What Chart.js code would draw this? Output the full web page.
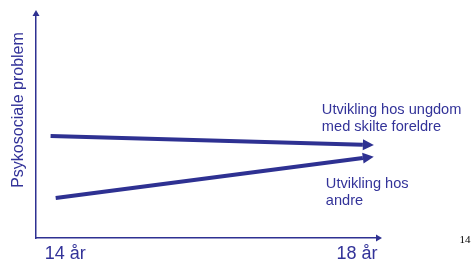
<!DOCTYPE html>
<html>
<head>
<meta charset="utf-8">
<script src="https://cdn.jsdelivr.net/npm/chart.js@4"></script>
<style>
  body { margin: 0; background: #fff; }
</style>
</head>
<body>
<canvas id="chart" width="475" height="262"></canvas>
<script>
// data (x = age in years, y = arbitrary problem level 0-10)
const tickYears = [14, 18];
const skilteX = [13.8, 18.08];
const skilteY = [4.6, 4.2];
const andreX = [13.87, 18.08];
const andreY = [1.8, 3.6];
const skilteLabel = ['Utvikling hos ungdom', 'med skilte foreldre'];
const andreLabel = ['Utvikling hos', 'andre'];
const yTitle = 'Psykosociale problem';

const lineColor = '#2e3192';
const textColor = '#333399';
const font = '"Liberation Sans", Arial, sans-serif';

function toPoints(xs, ys) {
    return xs.map((x, i) => ({ x: x, y: ys[i] }));
}

function arrowHead(ctx, x0, y0, x1, y1, len, half) {
    let a = Math.atan2(y1 - y0, x1 - x0);
    let tx = x1 + Math.cos(a) * len;
    let ty = y1 + Math.sin(a) * len;
    ctx.beginPath();
    ctx.moveTo(tx, ty);
    ctx.lineTo(x1 - Math.sin(a) * half, y1 + Math.cos(a) * half);
    ctx.lineTo(x1 + Math.sin(a) * half, y1 - Math.cos(a) * half);
    ctx.closePath();
    ctx.fill();
}

const extras = {
    id: 'extras',
    afterDraw(chart) {
        const ctx = chart.ctx;
        const area = chart.chartArea;
        ctx.save();
        ctx.fillStyle = lineColor;

        // axis arrowheads
        arrowHead(ctx, area.left, area.bottom, area.left, area.top, 6, 3.5);
        arrowHead(ctx, area.left, area.bottom, area.right, area.bottom, 6, 3.5);

        // line arrowheads + labels
        chart.data.datasets.forEach((ds, i) => {
            let pts = chart.getDatasetMeta(i).data;
            let p0 = pts[pts.length - 2], p1 = pts[pts.length - 1];
            ctx.fillStyle = lineColor;
            arrowHead(ctx, p0.x, p0.y, p1.x, p1.y, 11, 5.5);

            ctx.fillStyle = textColor;
            ctx.font = '14.6px ' + font;
            ctx.textBaseline = 'middle';
            ctx.textAlign = 'left';
            let lines = ds.notes;
            let ox = i === 0 ? -41 : -37;
            let oy = i === 0 ? -35 : 26;
            lines.forEach((t, k) => {
                ctx.fillText(t, p1.x + ox, p1.y + oy + k * 17);
            });
        });

        // y axis title
        ctx.save();
        ctx.translate(19, 110);
        ctx.rotate(-Math.PI / 2);
        ctx.fillStyle = textColor;
        ctx.font = '16px ' + font;
        ctx.textAlign = 'center';
        ctx.textBaseline = 'middle';
        ctx.fillText(yTitle, 0, 0);
        ctx.restore();

        // page number
        ctx.fillStyle = '#000';
        ctx.font = '11px "Liberation Serif", "Times New Roman", serif';
        ctx.textAlign = 'center';
        ctx.textBaseline = 'middle';
        ctx.fillText('14', 465, 240);
        ctx.restore();
    }
};

new Chart(document.getElementById('chart'), {
    type: 'line',
    data: {
        datasets: [{
            data: toPoints(skilteX, skilteY),
            notes: skilteLabel,
            borderColor: lineColor,
            borderWidth: 4,
            pointRadius: 0,
            tension: 0
        }, {
            data: toPoints(andreX, andreY),
            notes: andreLabel,
            borderColor: lineColor,
            borderWidth: 4,
            pointRadius: 0,
            tension: 0
        }]
    },
    options: {
        responsive: false,
        animation: false,
        layout: { padding: { top: 16, right: 99, left: 0, bottom: 0 } },
        plugins: { legend: { display: false }, tooltip: { enabled: false } },
        scales: {
            x: {
                type: 'linear',
                min: 13.6,
                max: 18.26,
                afterBuildTicks(scale) {
                    scale.ticks = tickYears.map(v => ({ value: v }));
                },
                afterFit(scale) { scale.height = 24; },
                grid: { display: false, drawTicks: false },
                border: { display: true, color: lineColor, width: 1.5 },
                ticks: {
                    padding: 5,
                    color: textColor,
                    font: { family: font, size: 18 },
                    maxRotation: 0,
                    callback: v => v + ' år'
                }
            },
            y: {
                min: 0,
                max: 10,
                afterFit(scale) { scale.width = 36; },
                grid: { display: false, drawTicks: false },
                border: { display: true, color: lineColor, width: 1.5 },
                ticks: { display: false }
            }
        }
    },
    plugins: [extras]
});
</script>
</body>
</html>
